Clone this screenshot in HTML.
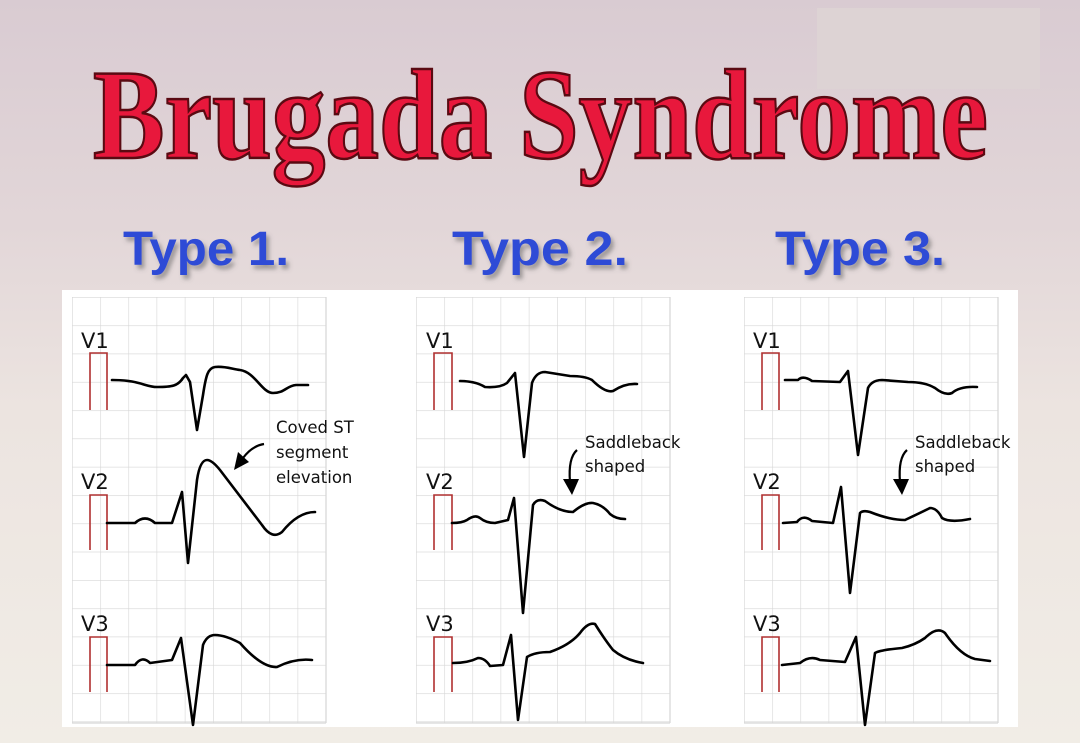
<!DOCTYPE html>
<html><head><meta charset="utf-8"><style>
html,body{margin:0;padding:0;}
body{width:1080px;height:743px;overflow:hidden;background:linear-gradient(180deg,#d9cbd2 0%,#e2d6d8 30%,#ece4e0 55%,#f1ede6 100%);}
svg{display:block}
</style></head><body>
<svg width="1080" height="743" viewBox="0 0 1080 743" xmlns="http://www.w3.org/2000/svg">
<defs>
<filter id="sh" x="-10%" y="-10%" width="130%" height="140%"><feDropShadow dx="3" dy="4" stdDeviation="2" flood-color="#555" flood-opacity="0.5"/></filter>
<pattern id="g1" x="72" y="297" width="28.2" height="28.3" patternUnits="userSpaceOnUse"><path d="M0,0 H28.2 M0,0 V28.3" stroke="#d6d6d6" stroke-width="1.2" fill="none"/></pattern>
<pattern id="g2" x="416" y="297" width="28.2" height="28.3" patternUnits="userSpaceOnUse"><path d="M0,0 H28.2 M0,0 V28.3" stroke="#d6d6d6" stroke-width="1.2" fill="none"/></pattern>
<pattern id="g3" x="744" y="297" width="28.2" height="28.3" patternUnits="userSpaceOnUse"><path d="M0,0 H28.2 M0,0 V28.3" stroke="#d6d6d6" stroke-width="1.2" fill="none"/></pattern>
</defs>
<rect x="817" y="8" width="223" height="81" fill="#ddd3d4"/>
<text x="93" y="158" font-family="Liberation Serif, serif" font-weight="bold" font-size="128" fill="#e8183c" stroke="#5a0a12" stroke-width="2.5" textLength="895" lengthAdjust="spacingAndGlyphs">Brugada Syndrome</text>
<g font-family="Liberation Sans, sans-serif" font-weight="bold" font-size="48" fill="#2e4cd6" filter="url(#sh)">
<text x="123" y="265" textLength="166" lengthAdjust="spacingAndGlyphs">Type 1.</text>
<text x="452" y="265" textLength="176" lengthAdjust="spacingAndGlyphs">Type 2.</text>
<text x="775" y="265" textLength="170" lengthAdjust="spacingAndGlyphs">Type 3.</text>
</g>
<rect x="62" y="290" width="956" height="437" fill="#fff"/>
<rect x="72" y="297" width="254" height="426" fill="url(#g1)"/>
<rect x="416" y="297" width="254" height="426" fill="url(#g2)"/>
<rect x="744" y="297" width="254" height="426" fill="url(#g3)"/>
<g stroke="#d6d6d6" stroke-width="1.2"><line x1="326" y1="297" x2="326" y2="723"/><line x1="670" y1="297" x2="670" y2="723"/><line x1="998" y1="297" x2="998" y2="723"/><line x1="72" y1="723" x2="326" y2="723"/><line x1="416" y1="723" x2="670" y2="723"/><line x1="744" y1="723" x2="998" y2="723"/></g>
<g font-family="DejaVu Sans, Liberation Sans, sans-serif" font-size="21" fill="#111">
<text x="81" y="348">V1</text><text x="81" y="489">V2</text><text x="81" y="631">V3</text>
<text x="426" y="348">V1</text><text x="426" y="489">V2</text><text x="426" y="631">V3</text>
<text x="753" y="348">V1</text><text x="753" y="489">V2</text><text x="753" y="631">V3</text>
</g>
<g fill="none" stroke="#b03030" stroke-width="1.6">
<path d="M90,410 V353 H107 V410 M90,550 V495 H107 V550 M90,692 V637 H107 V692"/>
<path d="M434,410 V353 H452 V410 M434,550 V495 H452 V550 M434,692 V637 H452 V692"/>
<path d="M762,410 V353 H779 V410 M762,550 V495 H779 V550 M762,692 V637 H779 V692"/>
</g>
<g fill="none" stroke="#000" stroke-width="2.6" stroke-linejoin="round" stroke-linecap="round">
<path d="M112,380 C140,380 145,387 157,387 C172,387 178,386 183,378 L186,375 L190,382 L197,430 L203,395 C206,375 208,368 215,367 C225,366 232,369 240,370 C255,372 262,393 273,393 C285,393 286,386 296,385 L308,385"/>
<path d="M107,523 L135,523 Q145,514 155,523 L172,523 L182,492 L188,563 L197,480 Q200,460 207,460 Q212,460 220,470 L262,525 Q272,540 282,532 Q298,512 315,512"/>
<path d="M107,665 L135,665 Q142,655 150,663 L172,660 L181,638 L193,725 L203,645 Q207,635 215,635 Q225,635 240,643 Q262,668 277,667 Q295,658 312,660"/>
<path d="M460,381 Q475,381 485,387 Q500,388 507,383 L515,373 L524,457 L532,383 Q536,372 545,372 L570,376 Q585,376 592,380 Q605,393 613,391 Q625,383 637,384"/>
<path d="M452,523 Q462,523 467,520 Q475,514 480,518 Q486,523 495,523 L508,520 L514,498 L523,613 L533,505 Q537,498 545,501 Q560,512 573,512 Q585,502 593,503 Q603,505 610,514 Q616,519 625,519"/>
<path d="M453,663 Q468,663 478,658 Q485,658 490,666 L503,665 L511,635 L518,720 L527,657 Q535,652 550,652 Q570,645 580,633 Q588,622 595,624 Q605,640 613,650 Q625,660 643,663"/>
<path d="M785,380 L798,380 Q803,375 812,381 L840,382 L848,371 L858,455 L868,388 Q872,380 882,380 L908,382 Q925,382 935,388 Q945,396 952,393 Q960,386 977,387"/>
<path d="M783,523 L797,522 Q803,514 812,521 L833,523 L841,487 L850,593 L860,513 Q863,510 870,512 Q890,520 905,520 Q920,513 930,508 Q937,508 942,518 Q950,523 970,519"/>
<path d="M782,665 L800,663 Q810,655 820,660 L845,662 L856,637 L865,725 L875,653 Q880,650 902,648 Q915,645 925,638 Q937,626 945,633 Q960,655 975,659 L990,661"/>
</g>
<g fill="none" stroke="#000" stroke-width="2.2">
<path d="M264,444 Q252,446 243,458"/>
<path d="M577,450 Q568,458 570,482"/>
<path d="M907,450 Q898,458 900,482"/>
</g>
<g fill="#000">
<polygon points="234,470 238,452 249,462"/>
<polygon points="572,495 563,479 579,479"/>
<polygon points="902,495 893,479 909,479"/>
</g>
<g font-family="DejaVu Sans, Liberation Sans, sans-serif" font-size="16.5" fill="#111">
<text x="276" y="433">Coved ST</text><text x="276" y="458">segment</text><text x="276" y="483">elevation</text>
<text x="585" y="448">Saddleback</text><text x="585" y="472">shaped</text>
<text x="915" y="448">Saddleback</text><text x="915" y="472">shaped</text>
</g>
</svg>
</body></html>
